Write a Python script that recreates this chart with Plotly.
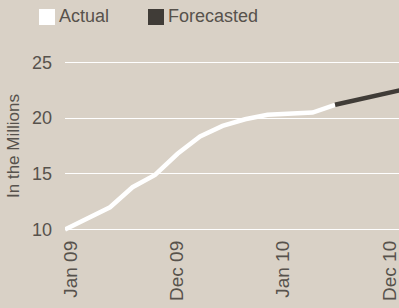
import plotly.graph_objects as go

# ---- data ----
period_index = [0, 1, 2, 3, 4, 5, 6, 7, 8, 9, 10, 11, 12, 13, 14, 15]
actual_values = [10.0, 11.0, 12.0, 13.8, 14.9, 16.8, 18.35, 19.3, 19.9, 20.3, 20.4, 20.5, 21.2]
forecast_values = [21.2, 21.65, 22.2, 22.55]
tick_labels = ["Jan 09", "Dec 09", "Jan 10", "Dec 10"]
tick_index = [0.27, 4.98, 9.69, 14.44]
y_ticks = [10, 15, 20, 25]
series_names = ["Actual", "Forecasted"]

BG = "#d9d1c6"
WHITE = "#ffffff"
DARK = "#403c37"
TEXT = "#57524c"
REG = "Liberation Sans, Arial, sans-serif"

n_act = len(actual_values)
fig = go.Figure()
fig.add_trace(go.Scatter(
    x=period_index[:n_act], y=actual_values, mode="lines", name=series_names[0],
    line=dict(color=WHITE, width=4.5), showlegend=False, hoverinfo="skip"))
fig.add_trace(go.Scatter(
    x=period_index[n_act - 1:n_act - 1 + len(forecast_values)], y=forecast_values,
    mode="lines", name=series_names[1],
    line=dict(color=DARK, width=4.5), showlegend=False, hoverinfo="skip"))

L, T, B = 65, 58, 74
W, H = 399, 308
pw, ph = W - L, H - T - B

def px(xpix):
    return (xpix - L) / pw

def py(ypix):
    return (H - B - ypix) / ph

# legend squares + text
for name, color, x0 in [(series_names[0], WHITE, 39), (series_names[1], DARK, 148)]:
    fig.add_shape(type="rect", xref="paper", yref="paper",
                  x0=px(x0), x1=px(x0 + 16), y0=py(25), y1=py(9),
                  fillcolor=color, line=dict(width=0))
    fig.add_annotation(xref="paper", yref="paper", x=px(x0 + 19), y=py(16),
                       xanchor="left", yanchor="middle", text=name, showarrow=False,
                       font=dict(family=REG, size=18, color=TEXT), borderpad=0)

fig.update_layout(
    width=W, height=H,
    margin=dict(l=L, r=0, t=T, b=B, pad=0, autoexpand=False),
    paper_bgcolor=BG, plot_bgcolor=BG,
    showlegend=False,
    xaxis=dict(range=[0, 14.84], tickmode="array", tickvals=tick_index, ticktext=tick_labels,
               tickangle=-90, showgrid=False, zeroline=False, showline=False, automargin=False,
               ticklabeloverflow="allow", ticklabelstandoff=2,
               ticks="", tickfont=dict(family=REG, size=19, color=TEXT), fixedrange=True),
    yaxis=dict(range=[9.6, 25.4], tickmode="array", tickvals=y_ticks, automargin=False,
               showgrid=True, gridcolor=WHITE, gridwidth=1, zeroline=False, showline=False,
               ticks="", ticklabelstandoff=12,
               tickfont=dict(family=REG, size=18, color=TEXT),
               title=dict(text="In the Millions", standoff=8,
                          font=dict(family=REG, size=17, color=TEXT)),
               fixedrange=True),
)

fig.write_html("out.html", config={"displayModeBar": False},
               post_script="document.body.style.margin='0';document.body.style.overflow='hidden';")
